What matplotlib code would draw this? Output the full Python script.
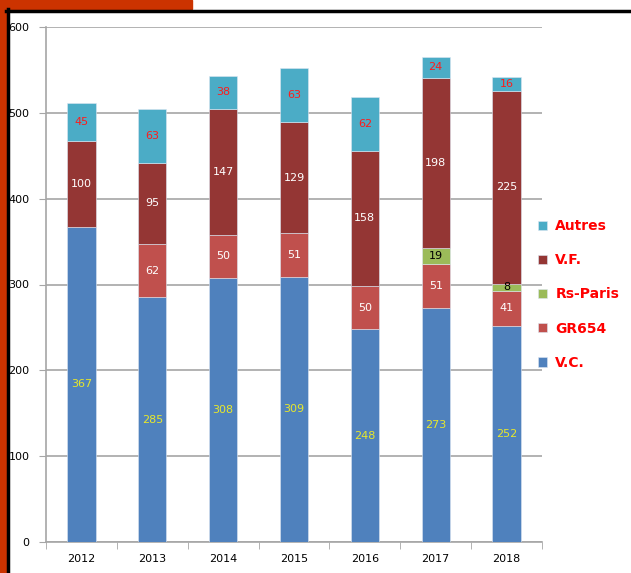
import numpy as np
import matplotlib
matplotlib.use("Agg")
import matplotlib.pyplot as plt
from matplotlib.patches import Rectangle
from matplotlib.lines import Line2D

years = ["2012", "2013", "2014", "2015", "2016", "2017", "2018"]

# stacked from bottom to top
vc = [367, 285, 308, 309, 248, 273, 252]
gr654 = [0, 62, 50, 51, 50, 51, 41]
rs_paris = [0, 0, 0, 0, 0, 19, 8]
vf = [100, 95, 147, 129, 158, 198, 225]
autres = [45, 63, 38, 63, 62, 24, 16]

series = [
    ("V.C.", vc, "#4f81bd", "#e8e82a"),
    ("GR654", gr654, "#c0504d", "white"),
    ("Rs-Paris", rs_paris, "#9bbb59", "black"),
    ("V.F.", vf, "#943634", "white"),
    ("Autres", autres, "#4bacc6", "#ff1a1a"),
]

W, H = 631, 573
fig = plt.figure(figsize=(W / 100, H / 100), dpi=100)

# frame decorations (orange band + black border)
orange = "#cc3300"
fig.patches.append(Rectangle((0, 0), 6 / W, 1, transform=fig.transFigure,
                             color=orange, zorder=0))
fig.patches.append(Rectangle((0, 1 - 9 / H), 192 / W, 9 / H, transform=fig.transFigure,
                             color=orange, zorder=0))
fig.lines.append(Line2D([7.5 / W, 7.5 / W], [0, 1 - 9 / H], transform=fig.transFigure,
                        color="black", lw=2.5))
fig.lines.append(Line2D([6 / W, 1], [1 - 10.5 / H, 1 - 10.5 / H], transform=fig.transFigure,
                        color="black", lw=2.5))

ax = fig.add_axes([46 / W, 1 - 542 / H, (542 - 46) / W, (542 - 27) / H])

x = np.arange(len(years))
bottom = np.zeros(len(years))
handles = []
for name, vals, color, tcolor in series:
    vals = np.array(vals, dtype=float)
    bars = ax.bar(x, vals, 0.4, bottom=bottom, color=color, zorder=3,
                  edgecolor="#dde6f2", linewidth=0.4)
    handles.append((bars, name))
    for xi, b, v in zip(x, bottom, vals):
        if v > 0:
            ax.text(xi, b + v / 2, f"{int(v)}", ha="center", va="center",
                    fontsize=8, color=tcolor, zorder=4)
    bottom += vals

ax.set_xlim(-0.5, len(years) - 0.5)
ax.set_ylim(0, 600)
ax.set_yticks(range(0, 601, 100))
ax.yaxis.grid(True, color="#a6a6a6", lw=1.2, zorder=0)
ax.set_axisbelow(True)

ax.set_xticks(x)
ax.set_xticklabels(years, fontsize=8)
ax.set_xticks(np.arange(-0.5, len(years), 1), minor=True)
ax.tick_params(axis="x", which="major", length=0, pad=9)
ax.tick_params(axis="x", which="minor", length=5, color="#a6a6a6", direction="out")
ax.tick_params(axis="y", length=5, color="#a6a6a6", labelsize=8, pad=7)

for s in ["top", "right"]:
    ax.spines[s].set_visible(False)
for s in ["left", "bottom"]:
    ax.spines[s].set_color("#a6a6a6")
    ax.spines[s].set_linewidth(1.2)

hs = [h for h, n in handles][::-1]
ns = [n for h, n in handles][::-1]
fig.legend(hs, ns, loc="center left", bbox_to_anchor=(531 / W, 1 - 294.5 / H),
           frameon=False, labelcolor="#ff0000",
           prop={"weight": "bold", "size": 10}, handlelength=0.65, handleheight=0.65,
           handletextpad=0.6, labelspacing=1.45, borderpad=0)

fig.savefig("out.png", dpi=100)
